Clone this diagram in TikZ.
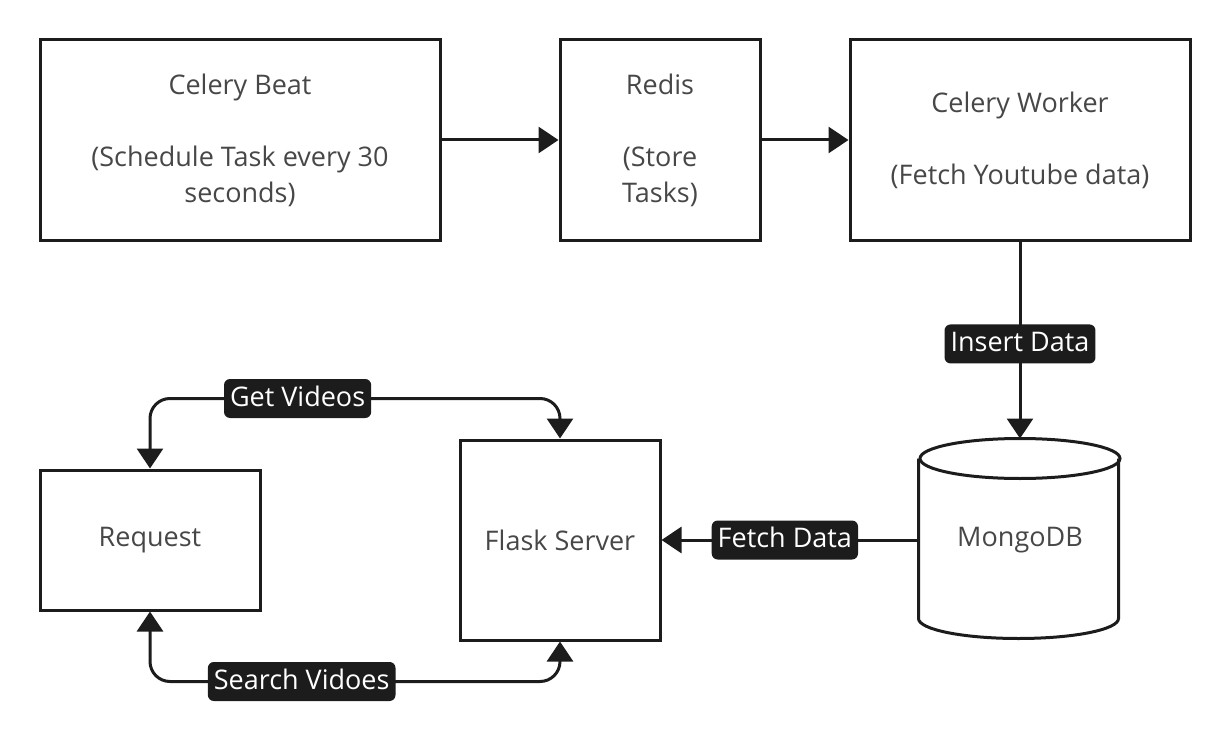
\documentclass[tikz,border=0pt]{standalone}
\usepackage{fontspec}
\setmainfont{Open Sans}
\usetikzlibrary{arrows.meta}
\definecolor{ink}{HTML}{1C1C1C}
\definecolor{txt}{HTML}{474747}
\begin{document}
\begin{tikzpicture}[x=1pt,y=1pt,font=\fontsize{27}{36}\selectfont,
	>={Triangle[width=26pt,length=20pt]},
	box/.style={draw=ink, line width=3pt, text=txt, align=center, inner sep=0pt},
	flow/.style={draw=ink, line width=3pt, line join=round, ->},
	lbl/.style={fill=ink, text=white, rounded corners=6pt, inner xsep=6pt, inner ysep=7pt,
		text height=20pt, text depth=5pt}]
	\useasboundingbox (0,0) rectangle (1231,-738);

	\node[box, minimum width=400pt, minimum height=200pt] (beat)   at (240,-140)
		{Celery Beat\\[36pt](Schedule Task every 30\\seconds)};
	\node[box, minimum width=200pt, minimum height=200pt] (redis)  at (660,-140)
		{Redis\\[36pt](Store\\Tasks)};
	\node[box, minimum width=340pt, minimum height=200pt] (worker) at (1020,-140)
		{Celery Worker\\[36pt](Fetch Youtube data)};
	\node[box, minimum width=220pt, minimum height=140pt] (request) at (150,-540) {Request};
	\node[box, minimum width=200pt, minimum height=200pt] (flask)   at (560,-540) {Flask Server};
	\node[box, draw=none, minimum width=200pt, minimum height=200pt] (mongo) at (1020,-540) {MongoDB};
	% cylinder outline of the database
	\draw[ink, line width=3pt] (mongo.north west) ++(0,-20) -- ++(0,-160)
		arc[start angle=180, end angle=360, x radius=100, y radius=20] -- ++(0,160);
	\draw[ink, line width=3pt] (mongo.north) ++(0,-20) ellipse[x radius=100, y radius=20];

	\draw[flow] (beat.east) -- (redis.west);
	\draw[flow] (redis.east) -- (worker.west);
	\draw[flow] (worker.south) -- node[lbl, pos=0.52] {Insert Data} (mongo.north);
	\draw[flow] (mongo.west) -- node[lbl, pos=0.52] {Fetch Data} (flask.east);
	\draw[flow, <->, rounded corners=20pt] (request.north) -- ++(0,70)
		-| node[lbl, pos=0.18] {Get Videos} (flask.north);
	\draw[flow, <->, rounded corners=20pt] (request.south) -- ++(0,-70)
		-| node[lbl, pos=0.185] {Search Vidoes} (flask.south);
\end{tikzpicture}
\end{document}
